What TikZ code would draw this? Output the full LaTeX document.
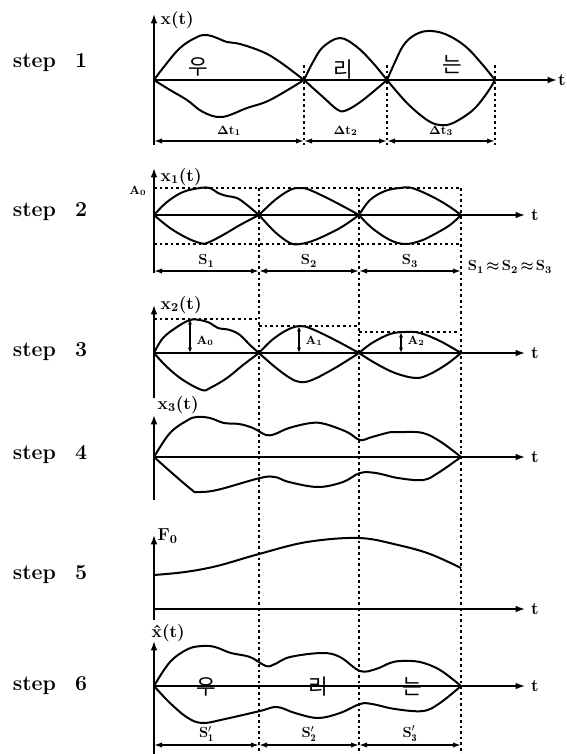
\documentclass[tikz,border=0pt]{standalone}
\usepackage{amsmath,bm}
\usepackage{fontspec}
\newfontfamily\korfont{Noto Sans CJK KR}
\usetikzlibrary{arrows.meta}

\begin{document}
\begin{tikzpicture}[x=0.75pt, y=-0.75pt,
  curve/.style={line width=1.5pt, line join=round},
  axis/.style={line width=1.2pt, -{Latex[length=7pt,width=5pt]}},
  guide/.style={line width=0.8pt, dash pattern=on 2pt off 2.2pt},
  span/.style={line width=1.1pt, {Latex[length=6pt,width=4pt]}-{Latex[length=6pt,width=4pt]}},
  amp/.style={line width=0.9pt, {Latex[length=4pt,width=3pt]}-{Latex[length=4pt,width=3pt]}},
  steplabel/.style={font=\fontsize{16}{19}\selectfont\bfseries},
  axlabel/.style={font=\fontsize{13}{15}\selectfont\bfseries, anchor=west},
  tlabel/.style={font=\fontsize{13}{15}\selectfont\bfseries},
  dimlabel/.style={font=\fontsize{9.5}{11}\selectfont\bfseries},
  seglabel/.style={font=\fontsize{11}{12}\selectfont\bfseries},
  amplabel/.style={font=\fontsize{9}{10}\selectfont\bfseries},
  hangul/.style={font=\korfont\fontsize{16}{18}\selectfont},
]
  \useasboundingbox (0,0) rectangle (567,754);

  % Step labels
  \foreach \n/\y in {1/63,2/212,3/352,4/455,5/575,6/686}{
    \node[steplabel] (st\n) at (50,\y) {step\hspace{0.9em}\n};
  }

  % Common grid lines of steps 2..6
  \foreach \x in {259,359,461}{
    \draw[guide] (\x,188) -- (\x,754);
  }

  % Step 1
  \coordinate (b1) at (154,145);
  \coordinate (top1) at (154,14);
  \coordinate (o1) at (154,80);
  \coordinate (e1) at (557,80);
  \draw[axis] (b1) -- (top1);
  \draw[axis] (o1) -- (e1);
  \node[axlabel] (lab1) at (156,20) {x(t)};
  \node[tlabel] (t1) at (562,80) {t};
  \foreach \x in {304,387,495}{
    \draw[guide] (\x,65) -- (\x,145);
  }
  \draw[curve] plot[smooth, tension=0.6] coordinates {(154,80) (163,68)
    (180,48) (197,37) (207,35) (217,38) (227,42) (240,44) (263,52)
    (280,62) (304,80)};
  \draw[curve] plot[smooth, tension=0.6] coordinates {(154,80) (170,90)
    (187,100) (203,112) (222,117) (247,108) (270,100) (304,80)};
  \draw[curve] plot[smooth, tension=0.6] coordinates {(304,80) (313,62)
    (323,47) (340,38) (357,47) (373,63) (387,80)};
  \draw[curve] plot[smooth, tension=0.6] coordinates {(304,80) (323,97)
    (338,110) (347,110) (363,100) (387,80)};
  \draw[curve] plot[smooth, tension=0.6] coordinates {(387,80) (395,62)
    (403,46) (413,36) (427,31) (445,34) (465,46) (482,64) (495,80)};
  \draw[curve] plot[smooth, tension=0.6] coordinates {(387,80) (407,103)
    (427,120) (440,125) (453,123) (473,110) (487,93) (495,80)};
  \node[hangul] (k11) at (198,67) {우};
  \node[hangul] (k12) at (343,70) {리};
  \node[hangul] (k13) at (452,65) {는};
  \coordinate (p10) at (154,141);
  \coordinate (p11) at (304,141);
  \coordinate (p12) at (387,141);
  \coordinate (p13) at (495,141);
  \draw[span] (p10) -- (p11) node[midway, above, dimlabel]{$\bm{\Delta}$t\textsubscript{1}};
  \draw[span] (p11) -- (p12) node[midway, above, dimlabel]{$\bm{\Delta}$t\textsubscript{2}};
  \draw[span] (p12) -- (p13) node[midway, above, dimlabel]{$\bm{\Delta}$t\textsubscript{3}};

  % Step 2
  \draw[axis] (154,273) -- (154,168);
  \draw[axis] (154,215) -- (525,215);
  \node[axlabel] (lab2) at (156,177) {x\textsubscript{1}(t)};
  \node[tlabel] (t2) at (535,215) {t};
  \node[amplabel, anchor=east] (a20) at (151,191) {A\textsubscript{0}};
  \draw[guide] (154,188) -- (461,188);
  \draw[guide] (154,244) -- (461,244);
  \draw[curve] plot[smooth, tension=0.6] coordinates {(154,215) (167,202)
    (183,192) (200,188) (210,188) (218,193) (227,196) (237,198) (247,205)
    (259,215)};
  \draw[curve] plot[smooth, tension=0.6] coordinates {(154,215) (170,228)
    (187,238) (200,243) (207,243) (223,235) (240,225) (259,215)};
  \draw[curve] plot[smooth, tension=0.6] coordinates {(259,215) (275,200)
    (290,190) (300,188) (310,190) (335,202) (359,215)};
  \draw[curve] plot[smooth, tension=0.6] coordinates {(259,215) (275,232)
    (290,243) (300,244) (315,240) (340,228) (359,215)};
  \draw[curve] plot[smooth, tension=0.6] coordinates {(359,215) (370,200)
    (385,191) (400,188) (412,188) (433,197) (450,207) (461,215)};
  \draw[curve] plot[smooth, tension=0.6] coordinates {(359,215) (372,228)
    (390,240) (405,244) (420,241) (433,235) (450,225) (461,215)};
  \coordinate (p20) at (154,271);
  \coordinate (p21) at (259,271);
  \coordinate (p22) at (359,271);
  \coordinate (p23) at (461,271);
  \draw[span] (p20) -- (p21) node[midway, above=-1pt, seglabel]{S\textsubscript{1}};
  \draw[span] (p21) -- (p22) node[midway, above=-1pt, seglabel]{S\textsubscript{2}};
  \draw[span] (p22) -- (p23) node[midway, above=-1pt, seglabel]{S\textsubscript{3}};
  \node[seglabel] (eq2) at (510,267)
    {S\textsubscript{1}$\,\bm{\approx}\,$S\textsubscript{2}$\,\bm{\approx}\,$S\textsubscript{3}};

  % Step 3
  \draw[axis] (154,398) -- (154,305);
  \draw[axis] (154,353) -- (525,353);
  \node[axlabel] (lab3) at (156,305) {x\textsubscript{2}(t)};
  \node[tlabel] (t3) at (535,353) {t};
  \draw[guide] (154,319) -- (259,319);
  \draw[guide] (259,326) -- (359,326);
  \draw[guide] (359,332) -- (457,332);
  \draw[curve] plot[smooth, tension=0.6] coordinates {(154,353) (163,338)
    (177,327) (190,320) (200,320) (210,323) (218,328) (230,330) (240,335)
    (250,345) (259,353)};
  \draw[curve] plot[smooth, tension=0.6] coordinates {(154,353) (167,367)
    (183,380) (202,390) (210,388) (227,378) (243,365) (259,353)};
  \draw[curve] plot[smooth, tension=0.6] coordinates {(259,353) (272,340)
    (287,330) (300,326) (312,329) (335,340) (359,353)};
  \draw[curve] plot[smooth, tension=0.6] coordinates {(259,353) (275,367)
    (290,378) (300,382) (312,380) (335,368) (359,353)};
  \draw[curve] plot[smooth, tension=0.6] coordinates {(359,353) (372,343)
    (390,334) (405,332) (420,333) (440,341) (461,353)};
  \draw[curve] plot[smooth, tension=0.6] coordinates {(359,353) (375,363)
    (395,373) (416,378) (430,374) (447,364) (461,353)};
  \foreach \x/\lv/\k in {190/319/0,299/326/1,401/332/2}{
    \draw[amp] (\x,353) -- (\x,\lv);
    \node[amplabel, anchor=west] (a3\k) at (\x+2,341) {A\textsubscript{\k}};
  }

  % Step 4
  \draw[axis] (154,500) -- (154,415);
  \draw[axis] (154,457) -- (525,457);
  \node[axlabel] (lab4) at (153,405) {x\textsubscript{3}(t)};
  \node[tlabel] (t4) at (535,457) {t};
  \draw[curve] plot[smooth, tension=0.6] coordinates {(154,457) (170,433)
    (188,420) (197,417) (210,418) (224,423) (239,424) (253,428) (266,435)
    (275,434) (289,428) (311,423) (325,424) (347,432) (360,440) (372,437)
    (391,432) (401,432) (423,433) (441,442) (461,457)};
  \draw[curve] plot[smooth, tension=0.6] coordinates {(154,457) (172,473)
    (192,490) (197,492) (217,490) (260,478) (275,477) (289,482) (318,487)
    (343,482) (360,473) (376,473) (398,478) (423,480) (438,473) (461,457)};

  % Step 5
  \draw[axis] (154,620) -- (154,535);
  \draw[axis] (154,609) -- (525,609);
  \node[axlabel] (lab5) at (153,536) {F\textsubscript{0}};
  \node[tlabel] (t5) at (535,609) {t};
  \draw[curve] plot[smooth, tension=0.6] coordinates {(154,575) (185,572)
    (217,566) (259,554) (307,542) (359,538) (398,545) (430,554) (461,568)};

  % Step 6
  \draw[axis] (154,754) -- (154,641);
  \draw[axis] (154,686) -- (525,686);
  \node[axlabel] (lab6) at (147,633) {\^{x}(t)};
  \node[tlabel] (t6) at (535,686) {t};
  \draw[curve] plot[smooth, tension=0.6] coordinates {(154,686) (170,662)
    (188,649) (203,646) (215,647) (231,653) (250,657) (266,666) (275,664)
    (290,657) (322,653) (340,657) (360,671) (376,669) (390,663) (401,661)
    (420,662) (440,670) (461,686)};
  \draw[curve] plot[smooth, tension=0.6] coordinates {(154,686) (170,703)
    (188,718) (203,723) (225,719) (260,711) (277,707) (295,713) (318,718)
    (340,713) (360,704) (372,704) (395,709) (423,711) (440,703) (461,686)};
  \node[hangul] (k61) at (206,687) {우};
  \node[hangul] (k62) at (318,687) {리};
  \node[hangul] (k63) at (412,687) {는};
  \coordinate (p60) at (154,745);
  \coordinate (p61) at (259,745);
  \coordinate (p62) at (359,745);
  \coordinate (p63) at (461,745);
  \draw[span] (p60) -- (p61) node[midway, above=-1pt, seglabel]{S$'_{\mathbf{1}}$};
  \draw[span] (p61) -- (p62) node[midway, above=-1pt, seglabel]{S$'_{\mathbf{2}}$};
  \draw[span] (p62) -- (p63) node[midway, above=-1pt, seglabel]{S$'_{\mathbf{3}}$};
\end{tikzpicture}
\end{document}
